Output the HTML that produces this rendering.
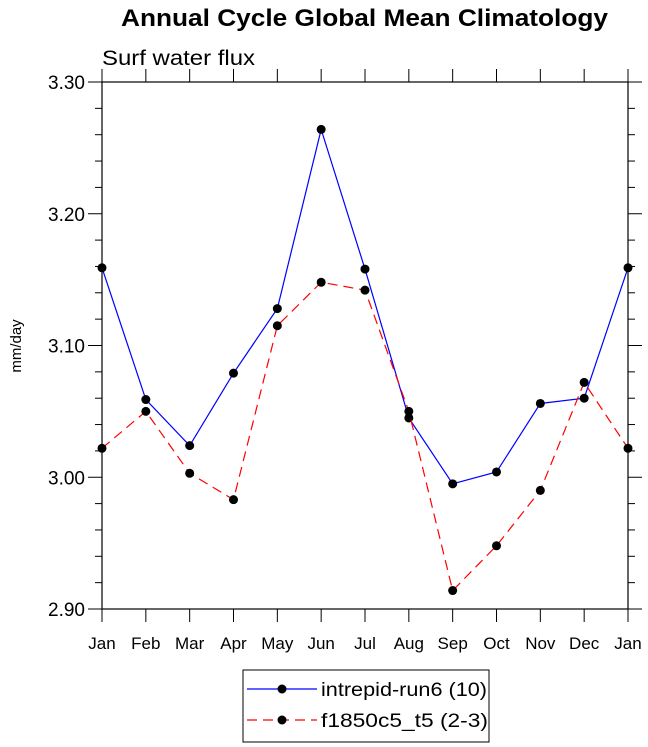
<!DOCTYPE html>
<html><head><meta charset="utf-8"><style>
body{margin:0;background:#fff}
svg{display:block;font-family:"Liberation Sans",sans-serif}
</style></head><body>
<svg id="c" width="648" height="747">
<text x="121" y="26" font-size="24" font-weight="bold" textLength="487" lengthAdjust="spacingAndGlyphs">Annual Cycle Global Mean Climatology</text>
<text x="102" y="65" font-size="21" textLength="153" lengthAdjust="spacingAndGlyphs">Surf water flux</text>
<text x="21" y="346" font-size="15" text-anchor="middle" transform="rotate(-90 21 346)">mm/day</text>
<rect x="102" y="82" width="526" height="527" fill="none" stroke="#000" stroke-width="1.2"/>
<g id="axes"></g><g id="series"></g>
<rect x="243" y="670" width="246" height="72" fill="#fff" stroke="#000" stroke-width="1"/>
<g>
<line x1="247" y1="689" x2="317" y2="689" stroke="#0000ff" stroke-width="1.2"/><circle cx="282" cy="689" r="4.5"/>
<text x="321" y="696" font-size="19" textLength="166" lengthAdjust="spacingAndGlyphs">intrepid-run6 (10)</text></g>
<g>
<line x1="247" y1="720" x2="317" y2="720" stroke="#ff0000" stroke-width="1.2" stroke-dasharray="10,6"/><circle cx="282" cy="720" r="4.5"/>
<text x="321" y="727" font-size="19" textLength="167" lengthAdjust="spacingAndGlyphs">f1850c5_t5 (2-3)</text></g>
</svg>
<script>
const months=["Jan","Feb","Mar","Apr","May","Jun","Jul","Aug","Sep","Oct","Nov","Dec","Jan"];
const yTicks=[2.90,3.00,3.10,3.20,3.30];
const yTickLabels=["2.90","3.00","3.10","3.20","3.30"];
const intrepid=[3.159,3.059,3.024,3.079,3.128,3.264,3.158,3.045,2.995,3.004,3.056,3.060,3.159];
const f1850=[3.022,3.050,3.003,2.983,3.115,3.148,3.142,3.050,2.914,2.948,2.990,3.072,3.022];
const NS="http://www.w3.org/2000/svg";
const x=i=>102+i*526/12, y=v=>609-(v-2.9)/0.4*527;
function mk(t,a,p){const e=document.createElementNS(NS,t);for(const k in a)e.setAttribute(k,a[k]);p.appendChild(e);return e;}
const ax=document.getElementById('axes');
for(let k=0;k<=20;k++){const v=2.9+k*0.02,yy=y(v),maj=k%5==0,l=maj?14:7;
 let t=mk('line',{x1:102-l,y1:yy,x2:102,y2:yy,stroke:'#000'},ax);
 
 
 mk('line',{x1:628,y1:yy,x2:628+l,y2:yy,stroke:'#000'},ax);}
yTicks.forEach((v,i)=>{const t=mk('text',{x:85,y:y(v)+7,'font-size':19,'text-anchor':'end'},ax);t.textContent=yTickLabels[i];
 
 });
months.forEach((m,i)=>{const xx=x(i);
 mk('line',{x1:xx,y1:609,x2:xx,y2:622,stroke:'#000'},ax);
 mk('line',{x1:xx,y1:82,x2:xx,y2:69,stroke:'#000'},ax);
 const t=mk('text',{x:xx,y:649,'font-size':17,'text-anchor':'middle'},ax);t.textContent=m;
 
 });
const sg=document.getElementById('series');
function draw(vals,col,dash,name){
 const p=mk('polyline',{points:vals.map((v,i)=>x(i)+','+y(v)).join(' '),fill:'none',stroke:col,'stroke-width':1.2,'stroke-dasharray':dash},sg);
 
 
 vals.forEach((v,i)=>{const c=mk('circle',{cx:x(i),cy:y(v),r:4.5,fill:'#000'},sg);
  
  });}
draw(intrepid,'#0000ff','none','intrepid');
draw(f1850,'#ff0000','10,6','f1850');
</script>
</body></html>
